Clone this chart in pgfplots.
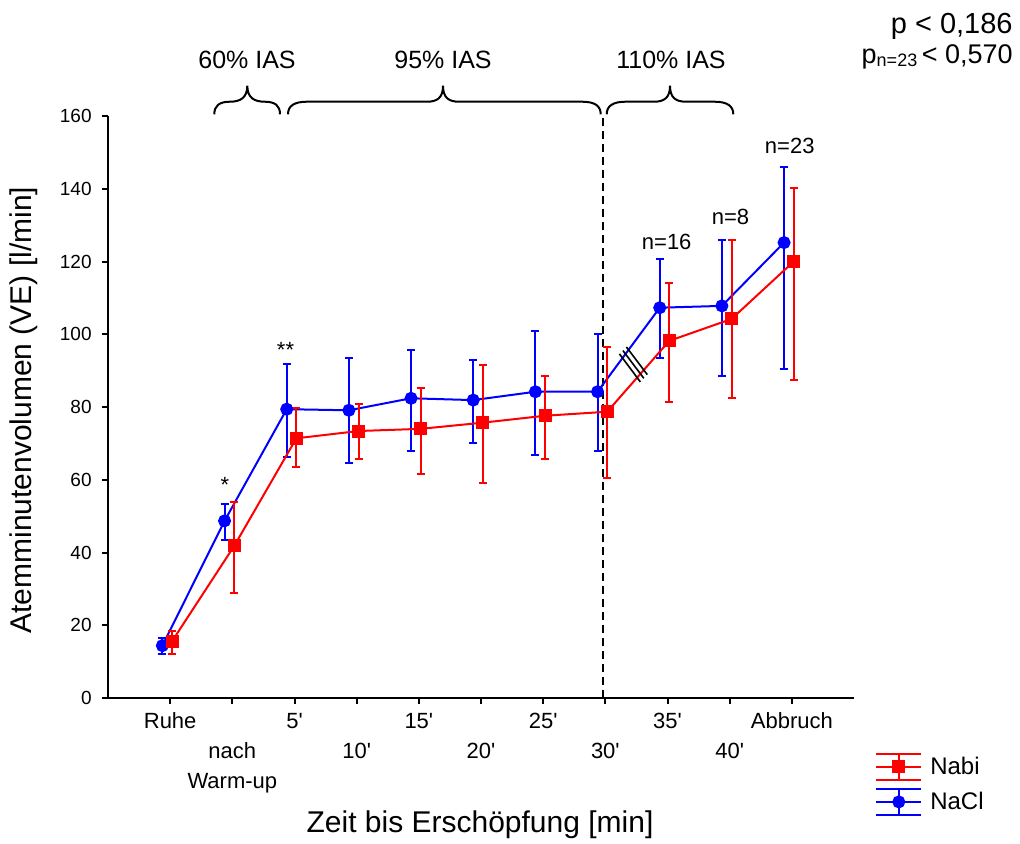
\documentclass[border=0pt]{standalone}
\usepackage{fontspec}
\setmainfont{Liberation Sans}
\usepackage{pgfplots}
\pgfplotsset{compat=1.18}
\newcommand{\q}{\textquotesingle}
\begin{document}
\begin{tikzpicture}
\useasboundingbox (-54pt,-72.5pt) rectangle (456pt,349pt);
\begin{axis}[
  at={(0pt,0pt)}, anchor=south west,
  scale only axis, width=373pt, height=291pt,
  xmin=-1, xmax=11, ymin=0, ymax=160,
  axis x line=bottom, axis y line=left,
  axis line style={-, line width=1.1pt},
  every tick/.style={black, line width=1pt},
  tick align=outside, major tick length=3pt,
  xtick={0,...,10},
  xticklabels={\strut Ruhe, {\strut\\nach\\Warm-up}, \strut 5\q, {\strut\\10\q}, \strut 15\q, {\strut\\20\q}, \strut 25\q, {\strut\\30\q}, \strut 35\q, {\strut\\40\q}, \strut Abbruch},
  xticklabel style={font=\fontsize{11}{15}\selectfont, align=center, anchor=north, inner sep=0pt, yshift=-1.5pt},
  ytick={0,20,...,160},
  yticklabel style={font=\fontsize{9.5}{11}\selectfont, anchor=east, inner sep=0pt, xshift=-5pt},
  /pgf/number format/assume math mode=true,
  clip=false,
  reverse legend,
  legend style={draw=none, fill=none, at={(1.028,-0.0936)}, anchor=north west, inner sep=0pt,
    nodes={inner sep=0pt}, font=\fontsize{12}{14}\selectfont, row sep=3.5pt, column sep=4pt},
  legend cell align=left,
]
\draw[black, line width=1pt, dash pattern=on 4pt off 2.5pt] (axis cs:6.97,0) -- (axis cs:6.97,159.8);

\addplot[blue, line width=1pt, mark=*, mark size=2.75pt, mark options={solid, fill=blue},
  legend image code/.code={
    \draw[blue, line width=1pt] (0pt,0pt) -- (22.5pt,0pt) (0pt,6.5pt) -- (22.5pt,6.5pt)
      (0pt,-6.5pt) -- (22.5pt,-6.5pt) (11.25pt,-6.5pt) -- (11.25pt,6.5pt);
    \fill[blue] (11.25pt,0pt) circle (2.75pt);
  },
  error bars/.cd, y dir=both, y explicit,
  error bar style={line width=1pt, blue},
  error mark options={rotate=90, mark size=2pt, line width=1pt, blue}]
  table[x=x, y=y, y error plus=ep, y error minus=em] {
x       y      ep    em
-0.125  14.4   2.2   2.2
0.875   48.7   4.7   5.3
1.875   79.4   12.5  13.1
2.875   79.1   14.5  14.5
3.875   82.4   13.3  14.4
4.875   81.9   11.0  11.7
5.875   84.2   16.8  17.4
6.875   84.2   15.9  16.2
7.875   107.3  13.3  13.9
8.875   107.8  18.1  19.2
9.875   125.2  20.8  34.7
};
\addlegendentry{NaCl}

\addplot[red, line width=1pt, mark=square*, mark size=2.75pt, mark options={solid, fill=red},
  legend image code/.code={
    \draw[red, line width=1pt] (0pt,0pt) -- (22.5pt,0pt) (0pt,6.5pt) -- (22.5pt,6.5pt)
      (0pt,-6.5pt) -- (22.5pt,-6.5pt) (11.25pt,-6.5pt) -- (11.25pt,6.5pt);
    \fill[red] (8.5pt,-2.75pt) rectangle (14pt,2.75pt);
  },
  error bars/.cd, y dir=both, y explicit,
  error bar style={line width=1pt, red},
  error mark options={rotate=90, mark size=2pt, line width=1pt, red}]
  table[x=x, y=y, y error plus=ep, y error minus=em] {
x       y      ep    em
0.03    15.6   2.7   3.4
1.03    41.8   12.1  13.0
2.03    71.4   8.3   8.0
3.03    73.4   7.5   7.7
4.03    74.0   11.2  12.4
5.03    75.7   15.9  16.5
6.03    77.6   10.9  11.9
7.03    78.7   17.7  18.3
8.03    98.2   15.8  16.7
9.03    104.2  21.7  21.7
10.03   120.0  20.1  32.5
};
\addlegendentry{Nabi}

\draw[black, line width=0.8pt] (axis cs:7.227,94.6) -- (axis cs:7.563,86.9);
\draw[black, line width=0.8pt] (axis cs:7.283,95.5) -- (axis cs:7.619,87.9);
\draw[black, line width=0.8pt] (axis cs:7.339,96.5) -- (axis cs:7.675,88.9);
\end{axis}

\begin{scope}[x=0.5pt, y=-0.5pt, shift={(-54pt,349pt)}]
  \node[font=\fontsize{12.5}{15}\selectfont] at (247,60) {60\% IAS};
  \node[font=\fontsize{12.5}{15}\selectfont] at (443,60) {95\% IAS};
  \node[font=\fontsize{12.5}{15}\selectfont] at (671,60) {110\% IAS};
  \draw[line width=1pt] (214.3,114.3) .. controls (214.3,106) and (219,101.7) .. (230,101.7)
     .. controls (240,101.7) and (247.3,98) .. (247.3,85.7)
     .. controls (247.3,98) and (254.6,101.7) .. (264.6,101.7)
     .. controls (275.6,101.7) and (280,106) .. (280,114.3);
  \draw[line width=1pt] (288,114.3) .. controls (288,106) and (294,101.7) .. (307,101.7)
     -- (427,101.7) .. controls (437,101.7) and (443,98) .. (443,85.7)
     .. controls (443,98) and (449,101.7) .. (459,101.7)
     -- (582,101.7) .. controls (595,101.7) and (600.7,106) .. (600.7,114.3);
  \draw[line width=1pt] (606.7,114.3) .. controls (606.7,106) and (612.7,101.7) .. (625.7,101.7)
     -- (654,101.7) .. controls (664,101.7) and (670,98) .. (670,85.7)
     .. controls (670,98) and (676,101.7) .. (686,101.7)
     -- (714.3,101.7) .. controls (727.3,101.7) and (733.3,106) .. (733.3,114.3);
  \node[anchor=base east, inner sep=0pt, font=\fontsize{14.5}{16}\selectfont] at (1013,33.3) {p < 0,186};
  \node[anchor=base east, inner sep=0pt, font=\fontsize{13.5}{16}\selectfont] at (1013,63.3) {p\raisebox{-1.5pt}{\fontsize{9}{9}\selectfont n=23}\,< 0,570};
  \node[anchor=base, font=\fontsize{11}{13}\selectfont] at (225,492) {*};
  \node[anchor=base, font=\fontsize{11}{13}\selectfont] at (285.5,357) {**};
  \node[font=\fontsize{11}{13}\selectfont] at (666.7,241.5) {n=16};
  \node[font=\fontsize{11}{13}\selectfont] at (730.5,216.7) {n=8};
  \node[font=\fontsize{11}{13}\selectfont] at (789.7,145.5) {n=23};
  \node[rotate=90, font=\fontsize{15}{17}\selectfont] at (24,410) {Atemminutenvolumen (VE) [l/min]};
  \node[font=\fontsize{15}{17}\selectfont] at (480,825) {Zeit bis Erschöpfung [min]};
\end{scope}
\end{tikzpicture}
\end{document}
